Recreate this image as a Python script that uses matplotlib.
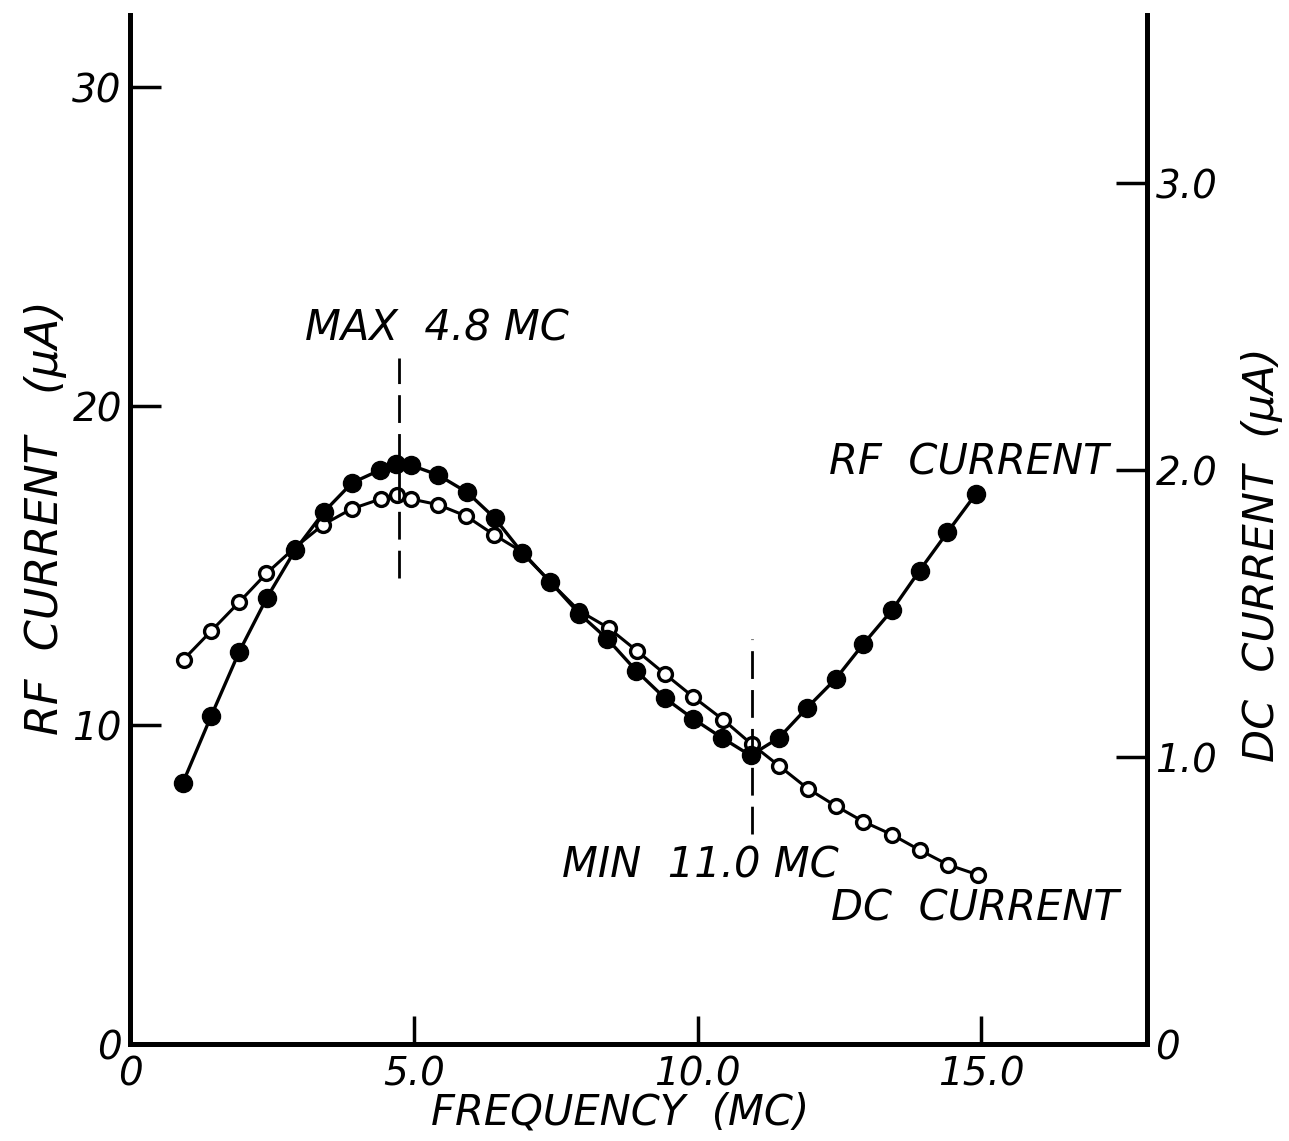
import numpy as np
import matplotlib
matplotlib.use("Agg")
import matplotlib.pyplot as plt

# frequency (MC) and RF current (uA, left axis) - filled points
freq_rf = [0.93, 1.43, 1.92, 2.41, 2.91, 3.42, 3.91, 4.40, 4.69, 4.95,
           5.42, 5.94, 6.42, 6.91, 7.40, 7.91, 8.41, 8.92, 9.42, 9.92,
           10.43, 10.93, 11.43, 11.93, 12.43, 12.92, 13.42, 13.91, 14.40, 14.90]
rf_current = [8.2, 10.3, 12.3, 14.0, 15.5, 16.7, 17.6, 18.0, 18.2, 18.15,
              17.85, 17.3, 16.5, 15.4, 14.5, 13.5, 12.7, 11.7, 10.85, 10.2,
              9.6, 9.05, 9.6, 10.55, 11.45, 12.55, 13.6, 14.85, 16.05, 17.25]

# frequency (MC) and DC current (uA, right axis) - open points
freq_dc = [0.94, 1.43, 1.92, 2.40, 2.90, 3.40, 3.90, 4.42, 4.70, 4.94,
           5.42, 5.92, 6.41, 6.91, 7.40, 7.91, 8.43, 8.93, 9.42, 9.92,
           10.45, 10.95, 11.43, 11.94, 12.43, 12.92, 13.42, 13.92, 14.41, 14.93]
dc_current = [1.34, 1.44, 1.54, 1.64, 1.73, 1.81, 1.865, 1.90, 1.915, 1.90,
              1.88, 1.84, 1.775, 1.715, 1.61, 1.51, 1.45, 1.37, 1.29, 1.21,
              1.13, 1.045, 0.97, 0.89, 0.83, 0.775, 0.73, 0.675, 0.625, 0.59]

x_ticks = [0, 5, 10, 15]
x_labels = ['0', '5.0', '10.0', '15.0']
rf_ticks = [0, 10, 20, 30]
rf_labels = ['0', '10', '20', '30']
dc_ticks = [0, 1, 2, 3]
dc_labels = ['0', '1.0', '2.0', '3.0']

max_freq = 4.74
min_freq = 10.95

FONT = dict(family=['Liberation Sans Narrow', 'DejaVu Sans'], style='italic')

fig = plt.figure(figsize=(12.89, 11.41), dpi=100)
ax = fig.add_axes([0.101, 0.085, 0.789, 0.9015])
ax2 = ax.twinx()

# RF curve drawn over the DC curve
ax.set_zorder(ax2.get_zorder() + 1)
ax.patch.set_visible(False)

ax2.plot(freq_dc, dc_current, color='black', lw=2.2, marker='o', ms=10,
         mfc='white', mec='black', mew=2.4)
ax.plot(freq_rf, rf_current, color='black', lw=2.4, marker='o', ms=13,
        mfc='black', mec='black')

# dashed markers for the maximum and minimum
ax.plot([max_freq, max_freq], [14.6, 21.5], color='black', lw=2, ls=(0, (10, 4)))
ax.plot([min_freq, min_freq], [6.6, 12.7], color='black', lw=2, ls=(0, (10, 4)))

ax.set_xlim(0, 17.92)
ax.set_ylim(0, 32.26)
ax2.set_ylim(0, 3.585)

for a in (ax, ax2):
    a.spines['top'].set_visible(False)
    for s in ('left', 'right', 'bottom'):
        a.spines[s].set_linewidth(3.5)

ax.set_xticks(x_ticks)
ax.set_xticklabels(x_labels, fontdict=dict(FONT, size=28))
ax.set_yticks(rf_ticks)
ax.set_yticklabels(rf_labels, fontdict=dict(FONT, size=28))
ax2.set_yticks(dc_ticks)
ax2.set_yticklabels(dc_labels, fontdict=dict(FONT, size=28))

ax.tick_params(axis='x', direction='in', length=20, width=2.5, pad=8)
ax.tick_params(axis='y', direction='in', length=22, width=2.5, pad=6)
ax2.tick_params(axis='y', direction='in', length=22, width=2.5, pad=6)

ax.text(5.40, 22.45, 'MAX  4.8 MC', fontdict=dict(FONT, size=30), ha='center', va='center')
ax.text(10.04, 5.61, 'MIN  11.0 MC', fontdict=dict(FONT, size=30), ha='center', va='center')
ax.text(17.23, 18.24, 'RF  CURRENT', fontdict=dict(FONT, size=30), ha='right', va='center')
ax.text(17.41, 4.26, 'DC  CURRENT', fontdict=dict(FONT, size=30), ha='right', va='center')

fig.text(0.481, 0.0254, 'FREQUENCY  (MC)', fontdict=dict(FONT, size=30), ha='center', va='center')
fig.text(0.035, 0.546, 'RF  CURRENT   (\u03bcA)', fontdict=dict(FONT, size=32),
         ha='center', va='center', rotation=90)
fig.text(0.979, 0.514, 'DC  CURRENT  (\u03bcA)', fontdict=dict(FONT, size=31),
         ha='center', va='center', rotation=90)

fig.savefig('out.png', dpi=100)
